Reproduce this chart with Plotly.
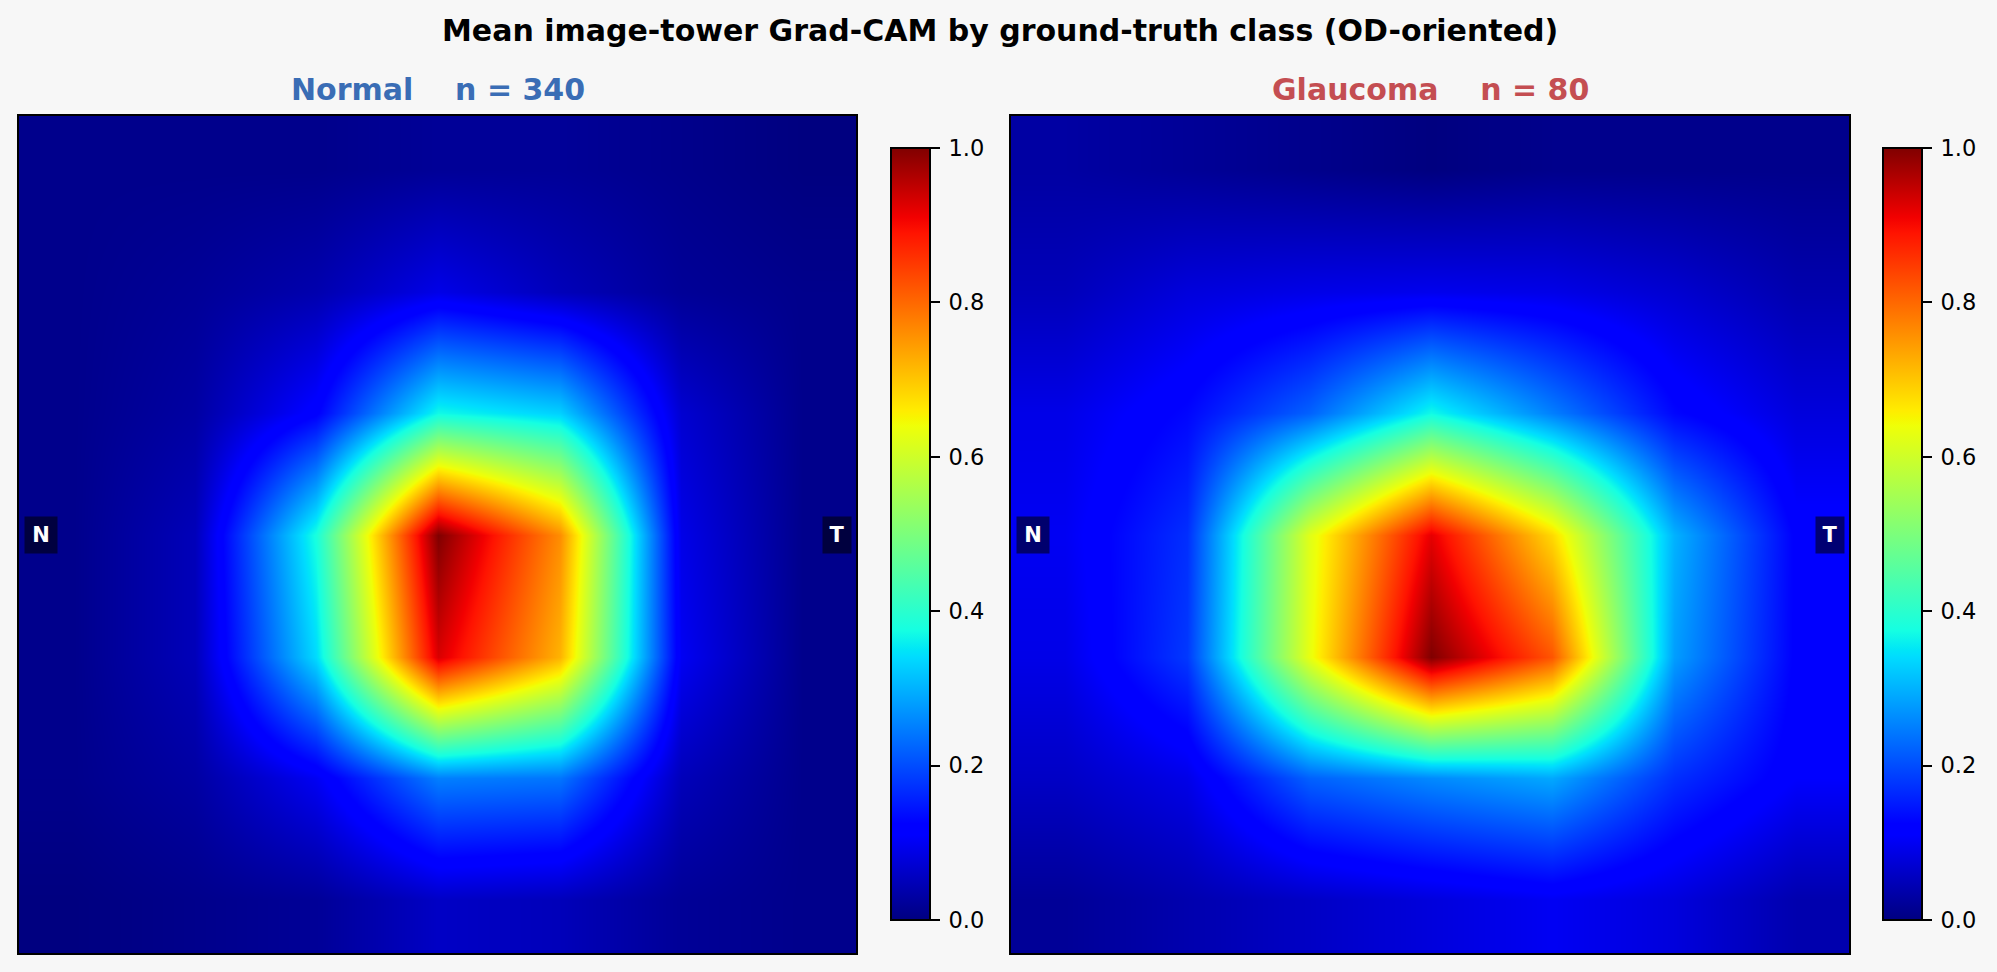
import plotly.graph_objects as go

W, H = 1997, 972

main_title = "Mean image-tower Grad-CAM by ground-truth class (OD-oriented)"
titles = ["Normal\u00a0\u00a0\u00a0\u00a0n = 340", "Glaucoma\u00a0\u00a0\u00a0\u00a0n = 80"]
title_colors = ["#3a6db5", "#c44e52"]

# grid nodes of the coarse CAM, in image pixels
grid_x = [54, 176, 298, 420, 542, 664, 786]
grid_y = [54, 176, 298, 420, 542, 664, 786]

normal_cam = [
    [0.01, 0.01, 0.01, 0.02, 0.02, 0.01, 0.00],
    [0.01, 0.02, 0.04, 0.09, 0.05, 0.02, 0.01],
    [0.01, 0.03, 0.12, 0.37, 0.33, 0.07, 0.01],
    [0.01, 0.05, 0.38, 1.00, 0.76, 0.09, 0.01],
    [0.01, 0.05, 0.34, 0.93, 0.72, 0.10, 0.01],
    [0.01, 0.03, 0.10, 0.25, 0.24, 0.05, 0.01],
    [0.00, 0.01, 0.02, 0.06, 0.05, 0.02, 0.01],
]

glaucoma_cam = [
    [0.03, 0.02, 0.01, 0.00, 0.01, 0.01, 0.01],
    [0.05, 0.08, 0.09, 0.095, 0.09, 0.07, 0.04],
    [0.09, 0.13, 0.22, 0.37, 0.25, 0.13, 0.08],
    [0.10, 0.17, 0.62, 0.92, 0.68, 0.30, 0.12],
    [0.09, 0.18, 0.63, 1.00, 0.82, 0.28, 0.12],
    [0.06, 0.09, 0.22, 0.26, 0.29, 0.17, 0.11],
    [0.02, 0.04, 0.06, 0.08, 0.10, 0.08, 0.04],
]

cbar_ticks = [0.0, 0.2, 0.4, 0.6, 0.8, 1.0]

jet = [
    [0.0, "rgb(0,0,128)"], [0.11, "rgb(0,0,255)"], [0.125, "rgb(0,0,255)"],
    [0.34, "rgb(0,219,255)"], [0.35, "rgb(0,230,247)"], [0.375, "rgb(21,255,226)"],
    [0.64, "rgb(239,255,8)"], [0.65, "rgb(247,246,0)"], [0.66, "rgb(255,236,0)"],
    [0.89, "rgb(255,19,0)"], [0.91, "rgb(242,0,0)"], [1.0, "rgb(128,0,0)"],
]

bg = "#f7f7f7"
font = "DejaVu Sans"

panel_left = [19, 1011]
panel_w = [837, 838]
panel_h = 837
panel_top = 116
cbar_left = [891, 1883]

fig = go.Figure()

for i, cam in enumerate([normal_cam, glaucoma_cam]):
    ax = "" if i == 0 else "2"
    fig.add_trace(go.Heatmap(
        x=grid_x, y=grid_y, z=cam,
        xaxis="x" + ax, yaxis="y" + ax,
        zmin=0, zmax=1, zsmooth="best", colorscale=jet,
        colorbar=dict(
            x=cbar_left[i] / W, xanchor="left", xpad=0, ypad=0,
            y=(H - 920) / H, yanchor="bottom",
            len=(920 - 148) / H, lenmode="fraction",
            thickness=39, thicknessmode="pixels",
            outlinecolor="black", outlinewidth=2,
            tickmode="array", tickvals=cbar_ticks,
            ticktext=["\u2009%.1f" % t for t in cbar_ticks],
            ticks="outside", ticklen=9, tickwidth=2, tickcolor="black",
            tickfont=dict(family=font, size=22.5, color="black"),
        ),
    ))
    axis = dict(showticklabels=False, ticks="", showgrid=False, zeroline=False,
                showline=True, mirror=True, linecolor="black", linewidth=2)
    fig.update_layout({
        "xaxis" + ax: dict(axis, range=[0, 839], anchor="y" + ax,
                           domain=[panel_left[i] / W, (panel_left[i] + panel_w[i]) / W]),
        "yaxis" + ax: dict(axis, range=[839, 0], anchor="x" + ax,
                           domain=[1 - (panel_top + panel_h) / H, 1 - panel_top / H]),
    })

    fig.add_annotation(text="<b>%s</b>" % titles[i], xref="paper", yref="paper",
                       x=(panel_left[i] + panel_w[i] / 2) / W, y=1 - 90 / H,
                       showarrow=False, xanchor="center", yanchor="middle",
                       font=dict(family=font, size=30, color=title_colors[i]))
    for label, pos, box_w in [("N", 0.026, 32), ("T", 0.977, 28)]:
        fig.add_annotation(text="<b>%s</b>" % label, xref="x%s domain" % ax, yref="y%s domain" % ax,
                           x=pos, y=0.5, showarrow=False, xanchor="center", yanchor="middle",
                           width=box_w, height=36, align="center", valign="middle",
                           bgcolor="rgba(0,0,0,0.55)", borderpad=0,
                           font=dict(family=font, size=21, color="white"))

fig.add_annotation(text="<b>%s</b>" % main_title, xref="paper", yref="paper",
                   x=1000 / W, y=1 - 31 / H, showarrow=False,
                   xanchor="center", yanchor="middle",
                   font=dict(family=font, size=30, color="black"))

fig.update_layout(
    width=W, height=H, margin=dict(l=0, r=0, t=0, b=0),
    paper_bgcolor=bg, plot_bgcolor=bg, showlegend=False,
)

# drop the browser's default body margin so the figure fills the window
fig.write_html("out.html", config=dict(displayModeBar=False),
               post_script="document.body.style.margin = '0';")
